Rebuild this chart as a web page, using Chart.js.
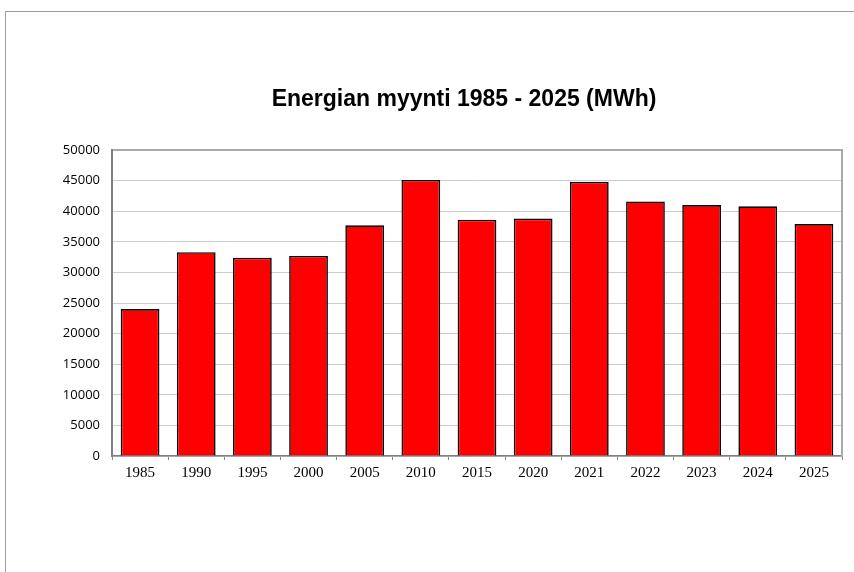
<!DOCTYPE html>
<html>
<head>
<meta charset="utf-8">
<script src="https://cdn.jsdelivr.net/npm/chart.js@4"></script>
<style>
  html, body { margin: 0; padding: 0; background: #ffffff; }
  #wrap { position: relative; width: 854px; height: 572px; overflow: hidden; }
  #c { position: absolute; left: 0; top: 0; }
  #frame { position: absolute; left: 5px; top: 11px; width: 860px; height: 600px;
           border-top: 1px solid #a0a0a0; border-left: 1px solid #a0a0a0; pointer-events: none; }
  #title { position: absolute; left: 164px; top: 87px; width: 600px; text-align: center;
           font-family: "Liberation Sans", Arial, sans-serif; font-weight: bold; font-size: 23px;
           line-height: 23px; color: #000; white-space: nowrap; }
</style>
</head>
<body>
<div id="wrap">
  <canvas id="c" width="854" height="572"></canvas>
  <div id="frame"></div>
  <div id="title"></div>
</div>
<script>
const titleText = "Energian myynti 1985 - 2025 (MWh)";
const years = ["1985","1990","1995","2000","2005","2010","2015","2020","2021","2022","2023","2024","2025"];
const sales = [24000, 33300, 32400, 32700, 37700, 45100, 38600, 38800, 44800, 41600, 41000, 40800, 37900];
const yMin = 0, yMax = 50000, yStep = 5000;

document.getElementById('title').textContent = titleText;

new Chart(document.getElementById('c'), {
  type: 'bar',
  data: {
    labels: years,
    datasets: [{
      data: sales,
      backgroundColor: '#ff0000',
      borderColor: '#000000',
      borderWidth: 1.6,
      barPercentage: 0.69,
      categoryPercentage: 1.0
    }]
  },
  options: {
    responsive: false,
    animation: false,
    devicePixelRatio: 1,
    layout: { padding: { left: 50, right: 12, top: 150, bottom: 86 } },
    plugins: {
      legend: { display: false },
      tooltip: { enabled: false },
      title: { display: false }
    },
    scales: {
      x: {
        offset: true,
        grid: { display: true, offset: true, drawOnChartArea: false, drawTicks: true, tickLength: 4, color: '#888888' },
        border: { display: true, color: '#808080', width: 1.5 },
        ticks: {
          color: '#000000',
          padding: 4,
          maxRotation: 0,
          autoSkip: false,
          font: { family: '"Liberation Serif", "Times New Roman", serif', size: 15 }
        }
      },
      y: {
        min: yMin, max: yMax,
        afterFit: s => { s.width = 62; },
        grid: {
          drawTicks: false,
          color: ctx => (ctx.tick && ctx.tick.value === yMax) ? '#aaaaaa' : '#cccccc',
          lineWidth: ctx => (ctx.tick && ctx.tick.value === yMax) ? 2 : 1
        },
        border: { display: true, color: '#808080', width: 2 },
        ticks: {
          stepSize: yStep,
          color: '#000000',
          padding: 12,
          callback: v => String(v),
          font: { family: '"Open Sans", sans-serif', size: 13 }
        }
      },
      y2: {
        position: 'right',
        min: yMin, max: yMax,
        afterFit: s => { s.width = 0; },
        grid: { display: false, drawOnChartArea: false, drawTicks: false },
        border: { display: true, color: '#aaaaaa', width: 2 },
        ticks: { display: false }
      }
    }
  }
});
</script>
</body>
</html>
